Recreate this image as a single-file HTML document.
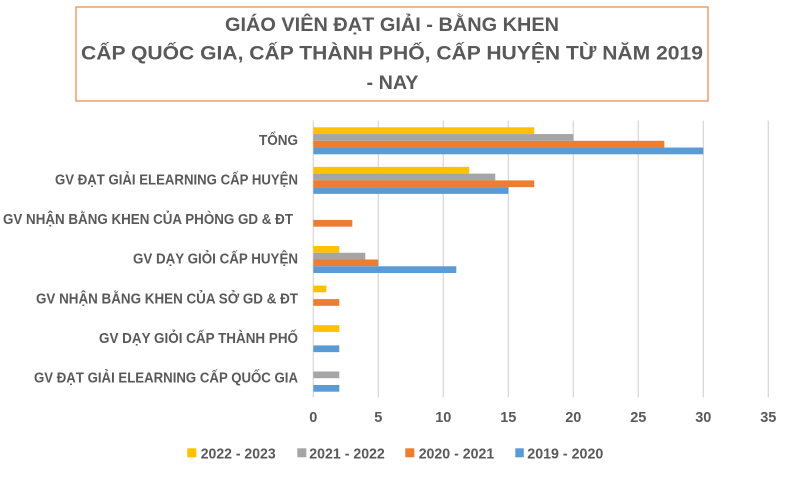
<!DOCTYPE html>
<html><head><meta charset="utf-8"><style>
html,body{margin:0;padding:0;background:#fff;}
svg{display:block;}
text{font-family:"Liberation Sans","DejaVu Sans",sans-serif;fill:#595959;}
</style></head><body>
<svg width="800" height="504" viewBox="0 0 800 504" xmlns="http://www.w3.org/2000/svg">
<rect x="0" y="0" width="800" height="504" fill="#fff"/>
<!-- title box -->
<rect x="76" y="7" width="632" height="94" fill="#fff" stroke="#EC9E6C" stroke-width="1.5"/>
<text x="392" y="31" text-anchor="middle" font-size="19" font-weight="bold" textLength="334" lengthAdjust="spacingAndGlyphs">GIÁO VIÊN ĐẠT GIẢI - BẰNG KHEN</text>
<text x="392" y="59.5" text-anchor="middle" font-size="19" font-weight="bold" textLength="622" lengthAdjust="spacingAndGlyphs">CẤP QUỐC GIA, CẤP THÀNH PHỐ, CẤP HUYỆN TỪ NĂM 2019</text>
<text x="392.5" y="89" text-anchor="middle" font-size="19" font-weight="bold" textLength="52" lengthAdjust="spacingAndGlyphs">- NAY</text>

<!-- gridlines -->
<g stroke="#D9D9D9" stroke-width="1.3">
<line x1="313.3" y1="120.5" x2="313.3" y2="397.5"/>
<line x1="378.3" y1="120.5" x2="378.3" y2="397.5"/>
<line x1="443.3" y1="120.5" x2="443.3" y2="397.5"/>
<line x1="508.3" y1="120.5" x2="508.3" y2="397.5"/>
<line x1="573.3" y1="120.5" x2="573.3" y2="397.5"/>
<line x1="638.3" y1="120.5" x2="638.3" y2="397.5"/>
<line x1="703.3" y1="120.5" x2="703.3" y2="397.5"/>
<line x1="768.3" y1="120.5" x2="768.3" y2="397.5"/>
</g>

<!-- bars -->
<rect x="313.3" y="127.3" width="221" height="6.75" fill="#FFC000"/>
<rect x="313.3" y="134.05" width="260" height="6.75" fill="#A5A5A5"/>
<rect x="313.3" y="140.8" width="351" height="6.75" fill="#ED7D31"/>
<rect x="313.3" y="147.55" width="390" height="6.75" fill="#5B9BD5"/>

<rect x="313.3" y="166.87" width="156" height="6.75" fill="#FFC000"/>
<rect x="313.3" y="173.62" width="182" height="6.75" fill="#A5A5A5"/>
<rect x="313.3" y="180.37" width="221" height="6.75" fill="#ED7D31"/>
<rect x="313.3" y="187.12" width="195" height="6.75" fill="#5B9BD5"/>

<rect x="313.3" y="219.94" width="39" height="6.75" fill="#ED7D31"/>

<rect x="313.3" y="246.01" width="26" height="6.75" fill="#FFC000"/>
<rect x="313.3" y="252.76" width="52" height="6.75" fill="#A5A5A5"/>
<rect x="313.3" y="259.51" width="65" height="6.75" fill="#ED7D31"/>
<rect x="313.3" y="266.26" width="143" height="6.75" fill="#5B9BD5"/>

<rect x="313.3" y="285.58" width="13" height="6.75" fill="#FFC000"/>
<rect x="313.3" y="299.08" width="26" height="6.75" fill="#ED7D31"/>

<rect x="313.3" y="325.15" width="26" height="6.75" fill="#FFC000"/>
<rect x="313.3" y="345.4" width="26" height="6.75" fill="#5B9BD5"/>

<rect x="313.3" y="371.47" width="26" height="6.75" fill="#A5A5A5"/>
<rect x="313.3" y="384.97" width="26" height="6.75" fill="#5B9BD5"/>

<!-- category labels -->
<g font-size="14.5" font-weight="bold" text-anchor="end">
<text x="298" y="145" textLength="39" lengthAdjust="spacingAndGlyphs">TỔNG</text>
<text x="298" y="184.6" textLength="243" lengthAdjust="spacingAndGlyphs">GV ĐẠT GIẢI ELEARNING CẤP HUYỆN</text>
<text x="293" y="224.2" textLength="290" lengthAdjust="spacingAndGlyphs">GV NHẬN BẰNG KHEN CỦA PHÒNG GD &amp; ĐT</text>
<text x="298" y="263.7" textLength="165" lengthAdjust="spacingAndGlyphs">GV DẠY GIỎI CẤP HUYỆN</text>
<text x="298" y="303.3" textLength="262" lengthAdjust="spacingAndGlyphs">GV NHẬN BẰNG KHEN CỦA SỞ GD &amp; ĐT</text>
<text x="298" y="342.9" textLength="199" lengthAdjust="spacingAndGlyphs">GV DẠY GIỎI CẤP THÀNH PHỐ</text>
<text x="298" y="382.5" textLength="264" lengthAdjust="spacingAndGlyphs">GV ĐẠT GIẢI ELEARNING CẤP QUỐC GIA</text>
</g>

<!-- x tick labels -->
<g font-size="14.5" font-weight="bold" text-anchor="middle">
<text x="313.3" y="422">0</text>
<text x="378.3" y="422">5</text>
<text x="443.3" y="422">10</text>
<text x="508.3" y="422">15</text>
<text x="573.3" y="422">20</text>
<text x="638.3" y="422">25</text>
<text x="703.3" y="422">30</text>
<text x="768.3" y="422">35</text>
</g>

<!-- legend -->
<g font-size="15" font-weight="bold">
<rect x="187.3" y="448.3" width="9" height="9" fill="#FFC000"/>
<text x="200.7" y="458.3" textLength="75" lengthAdjust="spacingAndGlyphs">2022 - 2023</text>
<rect x="297.3" y="448.3" width="9" height="9" fill="#A5A5A5"/>
<text x="309.3" y="458.3" textLength="75.5" lengthAdjust="spacingAndGlyphs">2021 - 2022</text>
<rect x="405.3" y="448.3" width="9" height="9" fill="#ED7D31"/>
<text x="418.7" y="458.3" textLength="75.5" lengthAdjust="spacingAndGlyphs">2020 - 2021</text>
<rect x="515.3" y="448.3" width="8.5" height="9" fill="#5B9BD5"/>
<text x="527.3" y="458.3" textLength="76" lengthAdjust="spacingAndGlyphs">2019 - 2020</text>
</g>
</svg>
</body></html>
